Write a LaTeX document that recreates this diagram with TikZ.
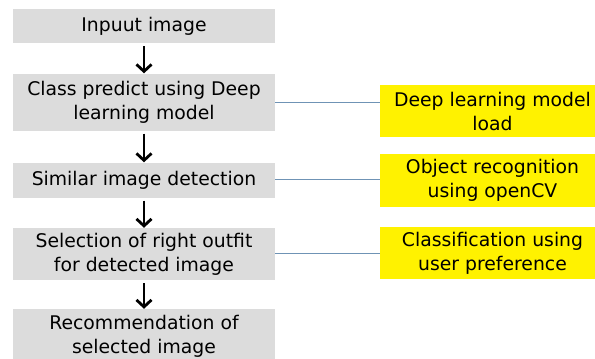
\documentclass[tikz,border=0pt]{standalone}
\usepackage{fontspec}
\setmainfont{DejaVu Sans}
\usetikzlibrary{arrows.meta}
\definecolor{boxgray}{HTML}{DCDCDC}
\definecolor{linkblue}{HTML}{6F93B5}
\tikzset{
  stepbox/.style={fill=boxgray, draw=none, align=center, inner sep=0pt,
    font=\fontsize{18.8}{24}\selectfont},
  notebox/.style={fill=yellow, draw=none, align=center, inner sep=0pt,
    font=\fontsize{18.8}{24}\selectfont},
  flow/.style={line width=2.8pt, -{Straight Barb[length=7pt,width=15pt]}, shorten <=3pt},
  link/.style={linkblue, line width=0.8pt}
}
\begin{document}
\begin{tikzpicture}[x=1pt,y=-1pt]
\useasboundingbox (0,0) rectangle (595,359);
\clip (0,0) rectangle (595,359);
% process steps
\node[stepbox, minimum width=262pt, minimum height=34pt] (s1) at (144,26) {Inpuut image};
\node[stepbox, minimum width=262pt, minimum height=57pt] (s2) at (144,102) {Class predict using Deep\\learning model};
\node[stepbox, minimum width=262pt, minimum height=35pt] (s3) at (144,180) {Similar image detection};
\node[stepbox, minimum width=262pt, minimum height=52pt] (s4) at (144,254) {Selection of right outfit\\for detected image};
\node[stepbox, minimum width=262pt, minimum height=54pt] (s5) at (144,336) {Recommendation of\\selected image};
% side notes
\node[notebox, minimum width=225pt, minimum height=52pt] (n1) at (492.5,111) {Deep learning model\\load};
\node[notebox, minimum width=225pt, minimum height=53pt] (n2) at (492.5,180.5) {Object recognition\\using openCV};
\node[notebox, minimum width=225pt, minimum height=52pt] (n3) at (492.5,253) {Classification using\\user preference};
% flow arrows
\draw[flow] (s1) -- (s2);
\draw[flow] (s2) -- (s3);
\draw[flow] (s3) -- (s4);
\draw[flow] (s4) -- (s5);
% links to notes
\draw[link] (s2.east |- 0,102) -- (n1.west |- 0,102);
\draw[link] (s3.east |- 0,179) -- (n2.west |- 0,179);
\draw[link] (s4.east |- 0,253) -- (n3.west |- 0,253);
\end{tikzpicture}
\end{document}
